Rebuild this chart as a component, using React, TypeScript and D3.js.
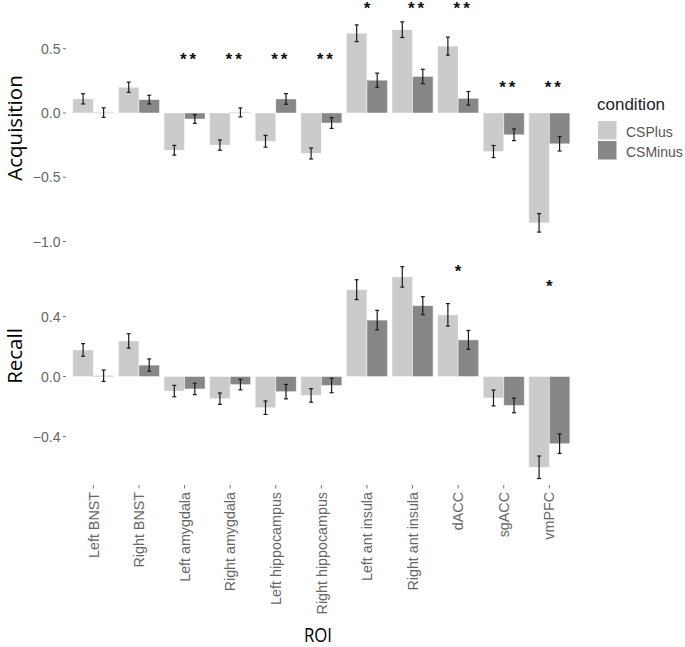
import React from "react";
import * as d3 from "d3";

const rois = [
  "Left BNST",
  "Right BNST",
  "Left amygdala",
  "Right amygdala",
  "Left hippocampus",
  "Right hippocampus",
  "Left ant insula",
  "Right ant insula",
  "dACC",
  "sgACC",
  "vmPFC",
];
const conditions = ["CSPlus", "CSMinus"];

const acqPlus = [0.11, 0.2, -0.29, -0.25, -0.22, -0.315, 0.62, 0.648, 0.52, -0.3, -0.855];
const acqPlusSE = [0.04, 0.04, 0.038, 0.04, 0.046, 0.043, 0.065, 0.061, 0.07, 0.047, 0.072];
const acqMinus = [0.003, 0.104, -0.047, 0.004, 0.109, -0.078, 0.255, 0.284, 0.114, -0.17, -0.24];
const acqMinusSE = [0.037, 0.034, 0.034, 0.035, 0.041, 0.042, 0.055, 0.056, 0.053, 0.045, 0.056];

const recPlus = [0.177, 0.237, -0.097, -0.148, -0.208, -0.126, 0.579, 0.664, 0.411, -0.143, -0.605];
const recPlusSE = [0.042, 0.048, 0.038, 0.038, 0.045, 0.045, 0.066, 0.068, 0.075, 0.053, 0.075];
const recMinus = [0.005, 0.076, -0.083, -0.054, -0.101, -0.06, 0.376, 0.472, 0.244, -0.193, -0.448];
const recMinusSE = [0.038, 0.041, 0.038, 0.035, 0.048, 0.048, 0.065, 0.06, 0.063, 0.049, 0.065];

const acqStars = ["", "", "**", "**", "**", "**", "*", "**", "**", "**", "**"];
const acqStarY = [0, 0, 0.445, 0.445, 0.445, 0.445, 0.845, 0.845, 0.845, 0.226, 0.226];
const recStars = ["", "", "", "", "", "", "", "", "*", "", "*"];
const recStarY = [0, 0, 0, 0, 0, 0, 0, 0, 0.725, 0, 0.63];

const acqTicks = [0.5, 0.0, -0.5, -1.0];
const recTicks = [0.4, 0.0, -0.4];

const W = 685;
const H = 647;
const colors = ["#cbcbcb", "#878787"];
const tickFont = "'Liberation Sans', Arial, sans-serif";
const titleFont = "'Open Sans', sans-serif";

const x = d3.scalePoint<string>().domain(rois).range([66, 576.7]).padding(0.6);
const step = x.step();
const barW = step * 0.45;

const yAcq = d3.scaleLinear().domain([0.5, -1.0]).range([48.7, 241.5]);
const yRec = d3.scaleLinear().domain([0.4, -0.4]).range([316.5, 436.5]);

type PanelProps = {
  y: d3.ScaleLinear<number, number>;
  plus: number[];
  plusSE: number[];
  minus: number[];
  minusSE: number[];
  stars: string[];
  starY: number[];
  ticks: number[];
  title: string;
  titleMid: number;
};

function Panel({ y, plus, plusSE, minus, minusSE, stars, starY, ticks, title, titleMid }: PanelProps) {
  const series = [
    { vals: plus, se: plusSE },
    { vals: minus, se: minusSE },
  ];
  const fmt = d3.format(".1f");
  return (
    <g>
      {ticks.map((t) => (
        <g key={t}>
          <line x1={63} x2={66} y1={y(t)} y2={y(t)} stroke="#777" strokeWidth={1} />
          <text
            x={60.5}
            y={y(t)}
            dy="0.36em"
            textAnchor="end"
            fontFamily={tickFont}
            fontSize={14}
            fill="#666"
          >
            {fmt(t)}
          </text>
        </g>
      ))}
      {series.map((s, si) =>
        rois.map((r, i) => {
          const cx = (x(r) as number) - barW + si * barW;
          const v = s.vals[i];
          const y0 = y(0);
          const yv = y(v);
          return (
            <rect
              key={`b${si}-${i}`}
              x={cx}
              y={Math.min(y0, yv)}
              width={barW}
              height={Math.max(0.6, Math.abs(yv - y0))}
              fill={colors[si]}
              stroke="rgba(255,255,255,0.55)"
              strokeWidth={0.8}
            />
          );
        })
      )}
      {series.map((s, si) =>
        rois.map((r, i) => {
          const cx = (x(r) as number) - barW / 2 + si * barW;
          const v = s.vals[i];
          const lo = y(v - s.se[i]);
          const hi = y(v + s.se[i]);
          const cw = 2;
          return (
            <g key={`e${si}-${i}`} stroke="#1a1a1a" strokeWidth={1.2}>
              <line x1={cx} x2={cx} y1={hi} y2={lo} />
              <line x1={cx - cw} x2={cx + cw} y1={hi} y2={hi} />
              <line x1={cx - cw} x2={cx + cw} y1={lo} y2={lo} />
            </g>
          );
        })
      )}
      {rois.map((r, i) =>
        stars[i] ? (
          <text
            key={`s${i}`}
            x={(x(r) as number) + (stars[i].length > 1 ? 3.5 + 1.5 : 0)}
            y={y(starY[i]) + 9.5}
            textAnchor="middle"
            fontFamily={tickFont}
            fontSize={17}
            fontWeight="bold"
            letterSpacing={stars[i].length > 1 ? 3 : 0}
            fill="#111"
          >
            {stars[i]}
          </text>
        ) : null
      )}
      <text
        transform={`translate(22,${titleMid}) rotate(-90)`}
        textAnchor="middle"
        fontFamily={titleFont}
        fontSize={20.5}
        fill="#000"
      >
        {title}
      </text>
    </g>
  );
}

export default function App() {
  return (
    <svg
      width={W}
      height={H}
      viewBox={`0 0 ${W} ${H}`}
      style={{ position: "absolute", left: 0, top: 0, background: "#fff" }}
    >
      <rect x={0} y={0} width={W} height={H} fill="#fff" />
      <Panel
        y={yAcq}
        plus={acqPlus}
        plusSE={acqPlusSE}
        minus={acqMinus}
        minusSE={acqMinusSE}
        stars={acqStars}
        starY={acqStarY}
        ticks={acqTicks}
        title="Acquisition"
        titleMid={128}
      />
      <Panel
        y={yRec}
        plus={recPlus}
        plusSE={recPlusSE}
        minus={recMinus}
        minusSE={recMinusSE}
        stars={recStars}
        starY={recStarY}
        ticks={recTicks}
        title="Recall"
        titleMid={356}
      />
      {rois.map((r) => (
        <g key={r}>
          <line x1={x(r)} x2={x(r)} y1={485} y2={488.5} stroke="#777" strokeWidth={1} />
          <text
            transform={`translate(${x(r)},${492}) rotate(-90)`}
            textAnchor="end"
            dy="0.36em"
            fontFamily={tickFont}
            fontSize={14.3}
            fill="#666"
          >
            {r}
          </text>
        </g>
      ))}
      <text
        transform="translate(318,641.5) scale(0.82,1)"
        textAnchor="middle"
        fontFamily={titleFont}
        fontSize={20.5}
        fill="#000"
      >
        ROI
      </text>
      <g>
        <text x={597} y={110} fontFamily={tickFont} fontSize={17} fill="#222">
          condition
        </text>
        {conditions.map((c, i) => (
          <g key={c}>
            <rect
              x={597.5}
              y={120.5 + i * 20}
              width={19.5}
              height={19.5}
              fill={colors[i]}
              stroke="#fff"
              strokeWidth={1}
            />
            <text x={626} y={136.5 + i * 20} fontFamily={tickFont} fontSize={14} fill="#555">
              {c}
            </text>
          </g>
        ))}
      </g>
    </svg>
  );
}
